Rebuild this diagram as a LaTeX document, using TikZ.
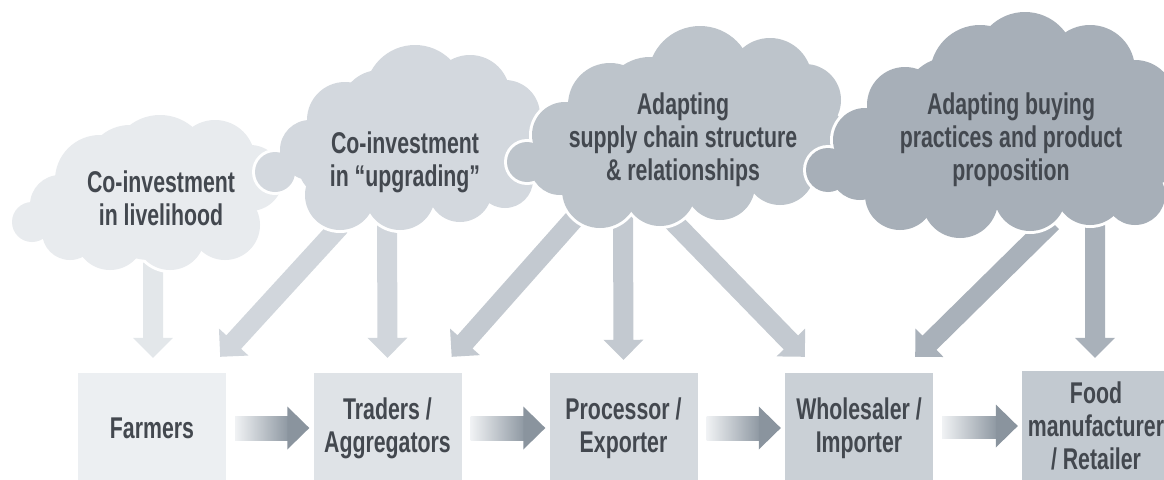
\documentclass[tikz,border=0pt]{standalone}
\usepackage{fontspec}
\setmainfont{Liberation Sans}[FakeStretch=0.71]
\usetikzlibrary{calc}
\definecolor{txt}{HTML}{43484F}
\definecolor{cl1}{HTML}{E8EBEE}
\definecolor{cl2}{HTML}{D3D8DE}
\definecolor{cl3}{HTML}{BDC4CB}
\definecolor{cl4}{HTML}{A7AFB8}
\definecolor{ar1}{HTML}{E3E7EA}
\definecolor{ar2}{HTML}{D1D6DC}
\definecolor{ar3}{HTML}{C3C9D0}
\definecolor{ar4}{HTML}{A9B1BA}
\definecolor{bx1}{HTML}{ECEFF2}
\definecolor{bx2}{HTML}{DFE3E7}
\definecolor{bx3}{HTML}{D4D9DE}
\definecolor{bx4}{HTML}{CAD0D6}
\definecolor{bx5}{HTML}{C2C9D0}
\definecolor{hl}{HTML}{F0F2F4}
\definecolor{hr}{HTML}{8E98A2}
\definecolor{hh}{HTML}{8A949E}

% fat arrow with right-angle head: #1 start, #2 tip, #3 colour
\newcommand\fatarr[3]{%
  \path ($(#2)!20pt!(#1)$) coordinate (fb);
  \fill[#3] ($(#1)!10pt!90:(#2)$) -- ($(fb)!10pt!90:(#2)$) -- ($(fb)!20pt!90:(#2)$) -- (#2)
     -- ($(fb)!20pt!-90:(#2)$) -- ($(fb)!10pt!-90:(#2)$) -- ($(#1)!10pt!-90:(#2)$) -- cycle;}

% shaded flow arrow between two boxes
\newcommand\flowarr[2]{%
  \shade[left color=hl, right color=hr] ($(#1.east)+(9,-12)$) rectangle ($(#2.west)+(-25,12)$);
  \fill[hh] ($(#2.west)+(-26,-21.5)$) -- ($(#2.west)+(-4,0)$) -- ($(#2.west)+(-26,21.5)$) -- cycle;}

% cloud body made of puffs with white rim
\newcommand\cloudbody[2]{%
  \foreach \cx/\cy/\r in {#2} \fill[white] (\cx,\cy) circle[radius=\r pt+3pt];
  \foreach \cx/\cy/\r in {#2} \fill[#1] (\cx,\cy) circle[radius=\r pt];}

\begin{document}
\begin{tikzpicture}[x=1pt,y=-1pt,
  ctext/.style={text=txt, align=center, font=\fontsize{30}{33}\selectfont\bfseries, inner sep=0pt},
  stagebox/.style={minimum width=148pt, minimum height=110pt, inner sep=0pt, align=center,
     text=txt, font=\fontsize{30}{33}\selectfont\bfseries}]
\useasboundingbox (0,0) rectangle (1164,479);

% supply chain stages
\node[stagebox, fill=bx1] (farmers) at (152,428) {Farmers};
\node[stagebox, fill=bx2] (traders) at (387.5,428) {Traders /\\Aggregators};
\node[stagebox, fill=bx3] (processor) at (623.5,428) {Processor /\\Exporter};
\node[stagebox, fill=bx4] (wholesaler) at (859,428) {Wholesaler /\\Importer};
\node[stagebox, fill=bx5] (food) at (1096,426) {Food\\manufacturer\\/ Retailer};

\flowarr{farmers}{traders}
\flowarr{traders}{processor}
\flowarr{processor}{wholesaler}
\flowarr{wholesaler}{food}

% arrow end points
\coordinate (a1s) at (153,250);
\coordinate (a1t) at ($(farmers.north)+(1,-15)$);
\coordinate (a2s) at (340,226);
\coordinate (a2t) at ($(farmers.north east)+(-6,-16)$);
\coordinate (a3s) at (387,210);
\coordinate (a3t) at ($(traders.north)+(0,-15)$);
\coordinate (a4s) at (582,210);
\coordinate (a4t) at ($(traders.north east)+(-10,-16)$);
\coordinate (a5s) at (623,210);
\coordinate (a5t) at ($(processor.north)+(0,-13)$);
\coordinate (a6s) at (662,210);
\coordinate (a6t) at ($(wholesaler.north west)+(20,-16)$);
\coordinate (a7s) at (1052,222);
\coordinate (a7t) at ($(wholesaler.north east)+(-18,-16)$);
\coordinate (a8s) at (1095,222);
\coordinate (a8t) at ($(food.north)+(-1,-13)$);

\fatarr{a1s}{a1t}{ar1}
\fatarr{a2s}{a2t}{ar2}
\fatarr{a3s}{a3t}{ar2}
\fatarr{a4s}{a4t}{ar3}
\fatarr{a5s}{a5t}{ar3}
\fatarr{a6s}{a6t}{ar3}
\fatarr{a7s}{a7t}{ar4}
\fatarr{a8s}{a8t}{ar4}

% clouds
\cloudbody{cl1}{32/222/20, 60/205/30, 100/180/45, 160/165/50, 215/160/40, 250/178/33,
  70/232/28, 110/235/35, 170/235/35, 225/225/35, 150/200/60,
  100/210/40, 210/200/40, 130/170/45, 190/175/45}
\cloudbody{cl2}{275/172/20, 310/150/30, 345/120/38, 415/95/50, 470/95/40, 505/115/35,
  520/145/30, 340/195/35, 400/195/35, 460/190/32, 505/180/28, 420/150/55,
  470/140/42, 370/160/42, 380/110/40, 330/165/32, 495/160/35}
\cloudbody{cl3}{527/162/20, 565/135/33, 610/105/42, 700/78/52, 770/80/42, 805/100/36,
  815/135/30, 600/190/38, 660/190/36, 720/185/35, 780/170/35, 680/140/60,
  600/150/42, 650/105/48, 745/120/48, 770/150/40, 560/165/30}
\cloudbody{cl4}{828/170/22, 865/140/32, 905/105/38, 980/75/50, 1025/62/50, 1090/70/45,
  1135/100/40, 1150/150/35, 1135/195/30, 900/195/35, 960/200/38, 1030/195/36,
  1090/190/35, 1000/140/70, 900/155/42, 950/105/48, 1080/130/55, 1120/160/40, 860/170/30}

\node[ctext] (c1) at (161,198) {Co-investment\\in livelihood};
\node[ctext] (c2) at (405,162) {Co-investment\\in “upgrading”};
\node[ctext] (c3) at (683,140) {Adapting\\supply chain structure\\\& relationships};
\node[ctext] (c4) at (1011,140) {Adapting buying\\practices and product\\proposition};
\end{tikzpicture}
\end{document}
